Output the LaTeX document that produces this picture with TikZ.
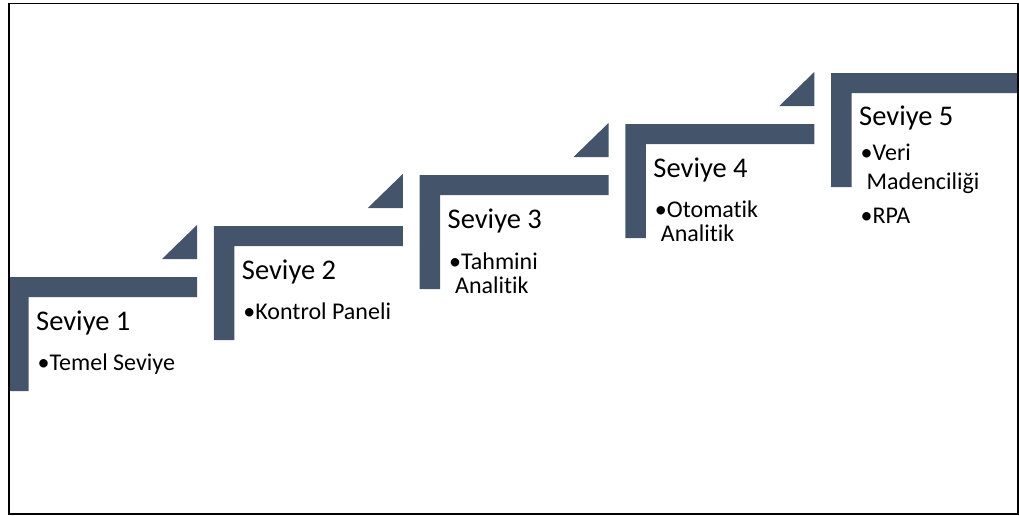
\documentclass[tikz,border=0pt]{standalone}
\usepackage{fontspec}
\setmainfont{Carlito}[Ligatures=NoCommon]
\definecolor{stairblue}{HTML}{44546A}
\begin{document}
\begin{tikzpicture}[x=1pt,y=-1pt,
  stair/.style={fill=stairblue},
  lvl/.style={anchor=base west, inner sep=0pt, font=\fontsize{28.5}{34}\selectfont},
  itm/.style={anchor=base west, inner sep=0pt, font=\fontsize{24}{29}\selectfont}]
\useasboundingbox (0,0) rectangle (1019,515);
% five L-shaped stairs climbing to the right, each with a small corner wedge
\foreach \i in {0,...,4}{
  \pgfmathsetmacro{\sx}{8+205.75*\i}
  \pgfmathsetmacro{\sy}{277-51*\i}
  \fill[stair] (\sx,\sy) -- ++(189,0) -- ++(0,20) -- ++(-168.5,0) -- ++(0,94) -- ++(-20.5,0) -- cycle;
  \ifnum\i<4
    \fill[stair] (\sx+154,\sy-18) -- ++(35,0) -- ++(0,-34) -- cycle;
  \fi
}
% level 1
\node[lvl] (t1) at (36,330) {Seviye 1};
\node[itm] (b1) at (37.5,370) {•Temel Seviye};
% level 2
\node[lvl] (t2) at (241.75,279) {Seviye 2};
\node[itm] (b2) at (243.25,319) {•Kontrol Paneli};
% level 3
\node[lvl] (t3) at (447.5,228) {Seviye 3};
\node[itm] (b3) at (449,269) {•Tahmini};
\node[itm] (b3b) at (455,293.5) {Analitik};
% level 4
\node[lvl] (t4) at (653.25,177) {Seviye 4};
\node[itm] (b4) at (654.75,217) {•Otomatik};
\node[itm] (b4b) at (660.75,241.5) {Analitik};
% level 5
\node[lvl] (t5) at (859,125.5) {Seviye 5};
\node[itm] (b5) at (860.5,160) {•Veri};
\node[itm] (b5b) at (866.5,189) {Madenciliği};
\node[itm] (b5c) at (860.5,223) {•RPA};
% outer frame
\draw[line width=1.2pt] (9,3.5) rectangle (1018,514);
\end{tikzpicture}
\end{document}
